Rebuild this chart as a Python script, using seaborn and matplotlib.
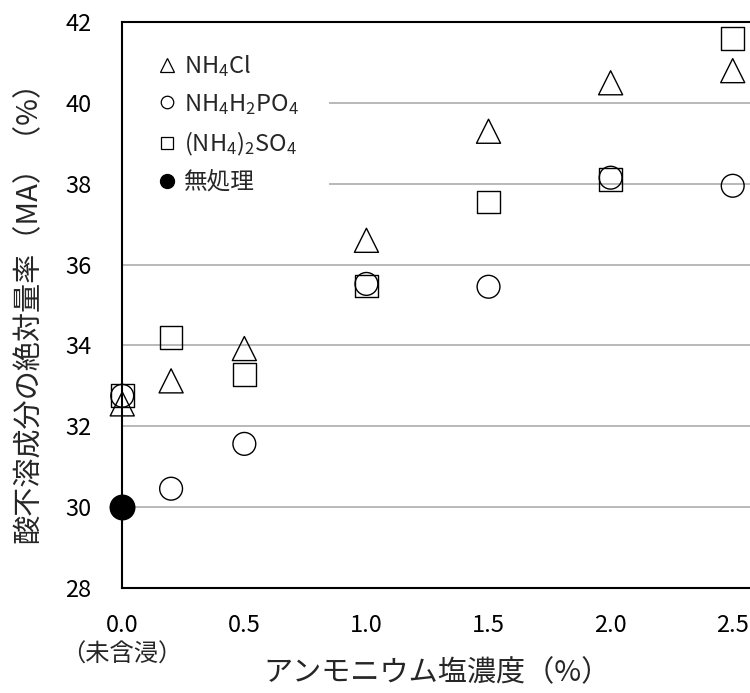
import matplotlib
matplotlib.use("Agg")
import matplotlib.pyplot as plt
from matplotlib.lines import Line2D
import seaborn as sns
import pandas as pd

# concentration (%) and measured values
conc = [0.0, 0.2, 0.5, 1.0, 1.5, 2.0, 2.5]
nh4cl = [32.55, 33.12, 33.92, 36.6, 39.3, 40.5, 40.8]
nh4h2po4 = [32.75, 30.45, 31.56, 35.52, 35.45, 38.15, 37.95]
nh42so4 = [32.75, 34.2, 33.27, 35.47, 37.55, 38.1, 41.6]
untreated_x = [0.0]
untreated_y = [30.0]

labels = [r"NH$_\mathregular{4}$Cl", r"NH$_\mathregular{4}$H$_\mathregular{2}$PO$_\mathregular{4}$",
          r"(NH$_\mathregular{4}$)$_\mathregular{2}$SO$_\mathregular{4}$", "無処理"]
markers = ["^", "o", "s"]
yticks = [28, 30, 32, 34, 36, 38, 40, 42]
xticks = [0.0, 0.5, 1.0, 1.5, 2.0, 2.5]
xticklabels = ["0.0", "0.5", "1.0", "1.5", "2.0", "2.5"]

sns.set_style("white")
plt.rcParams["font.family"] = ["Noto Sans CJK JP", "DejaVu Sans"]
plt.rcParams["mathtext.fontset"] = "custom"
plt.rcParams["mathtext.rm"] = "Noto Sans CJK JP"
plt.rcParams["mathtext.it"] = "Noto Sans CJK JP"

df = pd.DataFrame({
    "conc": conc * 3,
    "value": nh4cl + nh4h2po4 + nh42so4,
    "salt": [labels[0]] * 7 + [labels[1]] * 7 + [labels[2]] * 7,
})

fig = plt.figure(figsize=(7.5, 6.93), dpi=100)
ax = fig.add_axes([0.163, 0.152, 0.84, 0.816])

for gy in yticks[1:-1]:
    ax.axhline(gy, color="#a6a6a6", lw=1.1, zorder=0)

for lab, mk in zip(labels[:3], markers):
    sub = df[df["salt"] == lab]
    sns.scatterplot(data=sub, x="conc", y="value", marker=mk, s=300 if mk == "^" else 270,
                    facecolor="none", edgecolor="black", linewidth=1.0, ax=ax,
                    clip_on=False, zorder=3, legend=False)
sns.scatterplot(x=untreated_x, y=untreated_y, marker="o", s=300, color="black",
                edgecolor="black", ax=ax, clip_on=False, zorder=7, legend=False)

ax.set_xlim(0, 2.58)
ax.set_ylim(28, 42)
ax.set_yticks(yticks)
ax.set_xticks(xticks)
ax.set_xticklabels(xticklabels)
ax.tick_params(direction="in", length=7, width=1, labelsize=17, colors="black")
ax.tick_params(axis="x", pad=19)
ax.tick_params(axis="y", pad=22)
for sp in ax.spines.values():
    sp.set_color("black")
    sp.set_linewidth(1.5)
    sp.set_zorder(6)
ax.spines["right"].set_visible(False)

ax.text(0.0, -0.118, "（未含浸）", transform=ax.transAxes, ha="center",
        va="center", fontsize=17.5)
ax.set_xlabel("アンモニウム塩濃度（%）", fontsize=21)
ax.xaxis.set_label_coords(0.5, -0.125)
ax.set_ylabel("酸不溶成分の絶対量率（MA）（%）", fontsize=21)
ax.yaxis.set_label_coords(-0.125, 0.5)

handles = [
    Line2D([], [], ls="none", marker="^", mfc="none", mec="black", ms=10, mew=0.9),
    Line2D([], [], ls="none", marker="o", mfc="none", mec="black", ms=9, mew=0.9),
    Line2D([], [], ls="none", marker="s", mfc="none", mec="black", ms=9, mew=0.9),
    Line2D([], [], ls="none", marker="o", mfc="black", mec="black", ms=10),
]
leg = ax.legend(handles, labels, loc="upper left", bbox_to_anchor=(0, 1),
                frameon=True, fontsize=17, handletextpad=0.1, labelspacing=0.55,
                handlelength=1.2, borderpad=1.3, borderaxespad=0)
leg.get_frame().set_linewidth(0)
leg.get_frame().set_facecolor("white")
leg.get_frame().set_alpha(1)
leg.get_frame().set_boxstyle("square", pad=0)
leg.set_zorder(5)

fig.savefig("out.png", dpi=100)
